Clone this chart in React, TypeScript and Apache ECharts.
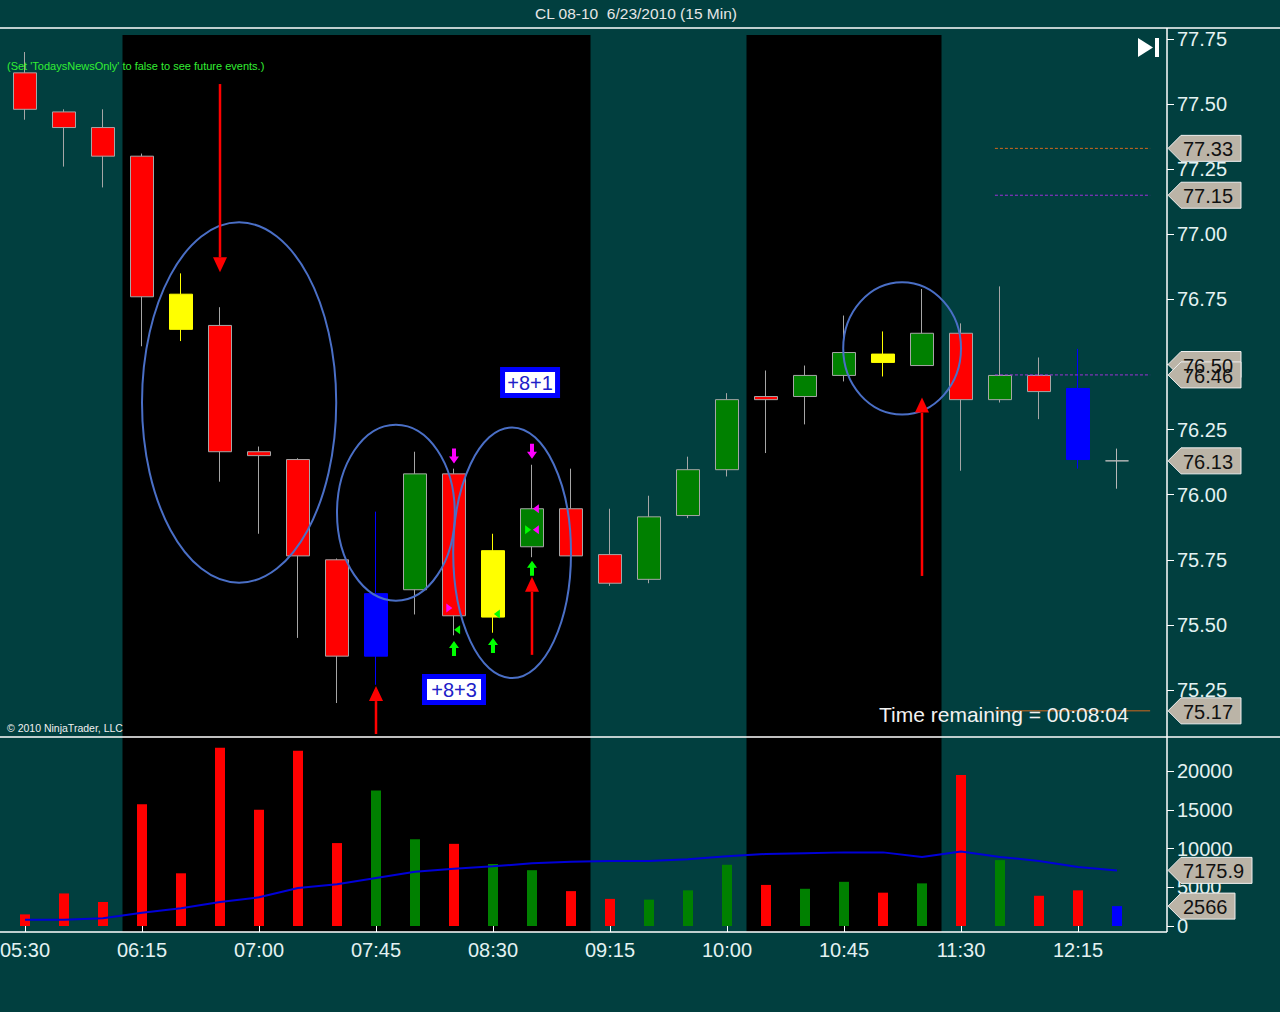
import React, { useEffect, useRef } from 'react';
import * as echarts from 'echarts';

const FONT = '"Liberation Sans", Arial, Helvetica, sans-serif';
const LABEL = '#e4f2f2';

// ---- price data (15 min bars) ----
const times = ['05:30','05:45','06:00','06:15','06:30','06:45','07:00','07:15','07:30','07:45','08:00','08:15','08:30','08:45','09:00','09:15','09:30','09:45','10:00','10:15','10:30','10:45','11:00','11:15','11:30','11:45','12:00','12:15','12:30'];
const opens  = [77.62, 77.47, 77.41, 77.30, 76.77, 76.65, 76.165, 76.135, 75.75, 75.38, 75.635, 76.08, 75.53, 75.80, 75.946, 75.77, 75.675, 75.92, 76.096, 76.377, 76.377, 76.458, 76.54, 76.496, 76.62, 76.365, 76.458, 76.408, 76.13];
const closes = [77.48, 77.41, 77.30, 76.76, 76.635, 76.165, 76.15, 75.765, 75.38, 75.62, 76.08, 75.535, 75.785, 75.946, 75.765, 75.66, 75.915, 76.096, 76.365, 76.365, 76.458, 76.546, 76.508, 76.62, 76.365, 76.458, 76.396, 76.135, 76.13];
const lows   = [77.44, 77.26, 77.18, 76.57, 76.59, 76.05, 75.85, 75.45, 75.20, 75.27, 75.54, 75.46, 75.47, 75.76, 75.765, 75.65, 75.66, 75.91, 76.07, 76.16, 76.27, 76.435, 76.454, 76.496, 76.092, 76.354, 76.29, 76.10, 76.023];
const highs  = [77.70, 77.48, 77.48, 77.31, 76.85, 76.72, 76.185, 76.14, 75.755, 75.935, 76.165, 76.10, 75.85, 76.115, 76.10, 75.946, 75.996, 76.146, 76.39, 76.477, 76.496, 76.688, 76.627, 76.79, 76.658, 76.80, 76.527, 76.56, 76.177];
const candleKinds = ['red','red','red','red','yellow','red','red','red','red','blue','green','red','yellow','green','red','red','green','green','green','red','green','green','yellow','green','red','green','red','blue','gray'];

// ---- volume data ----
const volumes = [1500, 4200, 3100, 15700, 6800, 23000, 15000, 22600, 10700, 17500, 11200, 10600, 8000, 7200, 4500, 3500, 3400, 4600, 7900, 5300, 4800, 5700, 4300, 5500, 19500, 8500, 3900, 4600, 2566];
const volumeKinds = ['red','red','red','red','red','red','red','red','red','green','green','red','green','green','red','red','green','green','green','red','green','green','red','green','red','green','red','red','blue'];
const volumeMA = [800, 800, 1000, 1700, 2300, 3100, 3700, 4900, 5400, 6200, 7000, 7400, 7700, 8100, 8300, 8400, 8400, 8600, 9000, 9300, 9400, 9500, 9500, 8900, 9600, 8900, 8400, 7600, 7175.9];

// ---- price level markers ----
const levelPrices = [77.33, 77.15, 76.46, 75.17];
const levelKinds = ['orangeDash', 'purpleDash', 'purpleDash', 'orangeSolid'];
const tagPrices = [77.33, 77.15, 76.50, 76.46, 76.13, 75.17];
const tagTexts = ['77.33', '77.15', '76.50', '76.46', '76.13', '75.17'];
const volTagValues = [7175.9, 2566];
const volTagTexts = ['7175.9', '2566'];

// ---- session shading (bar index ranges) ----
const sessionStart = [2.5, 18.5];
const sessionEnd = [14.5, 23.5];

// ---- annotations (anchored in bar-index / price units) ----
const ellipseIdx = [5.49, 9.51, 12.49, 22.49];
const ellipsePrice = [76.354, 75.931, 75.777, 76.562];
const ellipseRxBars = [2.49, 1.51, 1.51, 1.51];
const ellipseRyPrice = [0.692, 0.338, 0.481, 0.254];

const bigArrowIdx = [5, 9, 13, 23];
const bigArrowTail = [77.577, 75.081, 75.385, 75.688];
const bigArrowTip = [76.854, 75.265, 75.685, 76.373];

const downSignalIdx = [11, 13];
const downSignalTop = [76.177, 76.196];
const upSignalIdx = [11, 12, 13];
const upSignalTip = [75.438, 75.45, 75.746];
const triIdx = [11.08, 10.88, 12.1, 13.1, 12.9, 13.1];
const triPrice = [75.481, 75.565, 75.542, 75.946, 75.865, 75.865];
const triDir = ['left', 'right', 'left', 'left', 'right', 'left'];
const triKind = ['green', 'magenta', 'green', 'magenta', 'green', 'magenta'];

const boxTexts = ['+8+1', '+8+3'];
const boxIdx = [12.95, 11.0];
const boxPrice = [76.431, 75.252];

const BODY: Record<string, string> = { red: '#ff0000', green: '#008000', yellow: '#ffff00', blue: '#0000ff', gray: '#c4c4c4' };
const WICK: Record<string, string> = { red: '#a6a6a6', green: '#a6a6a6', yellow: '#ffff00', blue: '#0000ff', gray: '#b8b8b8' };
const VOL: Record<string, string> = { red: '#ff0000', green: '#008000', blue: '#0000ff' };
const LEVEL: Record<string, { color: string; dash: number[] | null }> = {
  orangeDash: { color: '#d2691e', dash: [3, 2] },
  purpleDash: { color: '#a030d8', dash: [3, 2] },
  orangeSolid: { color: '#d2691e', dash: null },
};
const SIG: Record<string, string> = { green: '#00ff00', magenta: '#ff00ff' };

export default function App() {
  const ref = useRef<HTMLDivElement>(null);

  useEffect(() => {
    if (!ref.current) return;
    const chart = echarts.init(ref.current, null, { renderer: 'svg' });

    const candleData = times.map((_, i) => {
      const k = candleKinds[i];
      return {
        value: [opens[i], closes[i], lows[i], highs[i]],
        itemStyle: { color: BODY[k], color0: BODY[k], borderColor: WICK[k], borderColor0: WICK[k], borderWidth: 1 },
      };
    });
    const volData = volumes.map((v, i) => ({ value: v, itemStyle: { color: VOL[volumeKinds[i]] } }));

    const axisLabel = { color: LABEL, fontSize: 20, fontFamily: FONT };

    chart.setOption({
      animation: false,
      backgroundColor: '#013f3f',
      grid: [
        { left: 5.5, right: 143.5, top: 39, height: 651, containLabel: false, outerBoundsMode: 'none' },
        { left: 5.5, right: 143.5, top: 771, height: 155, containLabel: false, outerBoundsMode: 'none' },
      ],
      xAxis: [
        { type: 'category', gridIndex: 0, data: times, show: false },
        {
          type: 'category', gridIndex: 1, data: times, offset: 6,
          axisLine: { show: false },
          axisTick: { show: true, interval: 2, alignWithLabel: true, length: 6, lineStyle: { color: '#ffffff' } },
          axisLabel: { ...axisLabel, interval: 2, margin: 8 },
          splitLine: { show: false },
        },
      ],
      yAxis: [
        {
          type: 'value', gridIndex: 0, position: 'right', offset: 30.5, min: 75.25, max: 77.75, interval: 0.25,
          axisLine: { show: false },
          axisTick: { show: true, length: 7, lineStyle: { color: '#ffffff' } },
          axisLabel: { ...axisLabel, margin: 10, formatter: (v: number) => v.toFixed(2) },
          splitLine: { show: false },
        },
        {
          type: 'value', gridIndex: 1, position: 'right', offset: 30.5, min: 0, max: 20000, interval: 5000,
          axisLine: { show: false },
          axisTick: { show: true, length: 7, lineStyle: { color: '#ffffff' } },
          axisLabel: { ...axisLabel, margin: 10, formatter: (v: number) => String(v) },
          splitLine: { show: false },
        },
      ],
      series: [
        { type: 'candlestick', xAxisIndex: 0, yAxisIndex: 0, data: candleData, barWidth: 23, clip: false, z: 3 },
        { type: 'bar', xAxisIndex: 1, yAxisIndex: 1, data: volData, barWidth: 10, clip: false, z: 3 },
        { type: 'line', xAxisIndex: 1, yAxisIndex: 1, data: volumeMA, symbol: 'none', clip: false, z: 4, lineStyle: { color: '#0000d8', width: 2 } },
      ],
    });

    const x0 = chart.convertToPixel({ xAxisIndex: 1 }, times[0]) as number;
    const x1 = chart.convertToPixel({ xAxisIndex: 1 }, times[1]) as number;
    const band = x1 - x0;
    const px = (i: number) => x0 + i * band;
    const py = (p: number) => chart.convertToPixel({ yAxisIndex: 0 }, p) as number;
    const vy = (v: number) => chart.convertToPixel({ yAxisIndex: 1 }, v) as number;
    const axisX = px(29 - 0.5) + 30.5;
    const panelTop = 28;
    const sepY = 737;
    const bottomY = 932;

    const els: any[] = [];

    // session shading
    sessionStart.forEach((s, k) => {
      els.push({ type: 'rect', z: 0, shape: { x: px(s), y: 35, width: px(sessionEnd[k]) - px(s), height: bottomY - 35 }, style: { fill: '#000000' } });
    });

    // frame
    const frame = { stroke: '#ffffff', lineWidth: 1.5 };
    els.push({ type: 'line', z: 6, shape: { x1: 0, y1: panelTop, x2: 1280, y2: panelTop }, style: frame });
    els.push({ type: 'line', z: 6, shape: { x1: 0, y1: sepY, x2: 1280, y2: sepY }, style: frame });
    els.push({ type: 'line', z: 6, shape: { x1: axisX, y1: panelTop, x2: axisX, y2: bottomY }, style: frame });
    els.push({ type: 'line', z: 6, shape: { x1: 0, y1: bottomY, x2: axisX, y2: bottomY }, style: frame });

    // level lines
    const lx1 = px(24.87);
    const lx2 = px(28.85);
    levelPrices.forEach((p, k) => {
      const L = LEVEL[levelKinds[k]];
      els.push({ type: 'line', z: 7, shape: { x1: lx1, y1: py(p), x2: lx2, y2: py(p) }, style: { stroke: L.color, lineWidth: 1, lineDash: L.dash || undefined } });
    });

    // ellipses
    ellipseIdx.forEach((ci, k) => {
      const cy = py(ellipsePrice[k]);
      const ry = Math.abs(py(ellipsePrice[k] + ellipseRyPrice[k]) - cy);
      els.push({ type: 'ellipse', z: 10, shape: { cx: px(ci), cy, rx: ellipseRxBars[k] * band, ry }, style: { fill: 'none', stroke: '#4a6fc6', lineWidth: 2 } });
    });

    // big red arrows
    bigArrowIdx.forEach((bi, k) => {
      const x = px(bi);
      const tail = py(bigArrowTail[k]);
      const tip = py(bigArrowTip[k]);
      const dir = tip < tail ? 1 : -1; // 1 = pointing up
      const base = tip + dir * 15;
      els.push({ type: 'line', z: 11, shape: { x1: x, y1: tail, x2: x, y2: base }, style: { stroke: '#ff0000', lineWidth: 2.5 } });
      els.push({ type: 'polygon', z: 11, shape: { points: [[x, tip], [x + 7, base], [x - 7, base]] }, style: { fill: '#ff0000' } });
    });

    // fat signal arrows
    const fat = (cx: number, tipY: number, s: number, color: string) => ({
      type: 'polygon', z: 12,
      shape: { points: [[cx, tipY], [cx + 5, tipY + s * 7], [cx + 2, tipY + s * 7], [cx + 2, tipY + s * 15], [cx - 2, tipY + s * 15], [cx - 2, tipY + s * 7], [cx - 5, tipY + s * 7]] },
      style: { fill: color },
    });
    downSignalIdx.forEach((bi, k) => { els.push(fat(px(bi), py(downSignalTop[k]) + 15, -1, SIG.magenta)); });
    upSignalIdx.forEach((bi, k) => { els.push(fat(px(bi), py(upSignalTip[k]), 1, SIG.green)); });
    triIdx.forEach((ti, k) => {
      const x = px(ti);
      const y = py(triPrice[k]);
      const pts = triDir[k] === 'left' ? [[x - 3, y], [x + 3, y - 4.5], [x + 3, y + 4.5]] : [[x + 3, y], [x - 3, y - 4.5], [x - 3, y + 4.5]];
      els.push({ type: 'polygon', z: 12, shape: { points: pts }, style: { fill: SIG[triKind[k]] } });
    });

    // +8 boxes
    boxTexts.forEach((t, k) => {
      const cx = px(boxIdx[k]);
      const cy = py(boxPrice[k]);
      const w = t === '+8+1' ? 55 : 59;
      els.push({ type: 'rect', z: 12, shape: { x: cx - w / 2, y: cy - 13, width: w, height: 26 }, style: { fill: '#ffffff', stroke: '#0000ff', lineWidth: 5 } });
      els.push({ type: 'text', z: 13, x: cx, y: cy + 1, style: { text: t, fill: '#2020c8', font: `20px ${FONT}`, textAlign: 'center', textVerticalAlign: 'middle' } });
    });

    // price tags
    const tag = (y: number, text: string, width: number) => {
      els.push({
        type: 'polygon', z: 20,
        shape: { points: [[axisX + 1, y], [axisX + 14, y - 13], [axisX + width, y - 13], [axisX + width, y + 13], [axisX + 14, y + 13]] },
        style: { fill: '#bbb4a7', stroke: '#eeeeee', lineWidth: 1 },
      });
      els.push({ type: 'text', z: 21, x: axisX + 16, y: y + 1, style: { text, fill: '#111111', font: `20px ${FONT}`, textAlign: 'left', textVerticalAlign: 'middle' } });
    };
    tagPrices.forEach((p, k) => tag(py(p), tagTexts[k], 74));
    volTagValues.forEach((v, k) => tag(vy(v), volTagTexts[k], volTagTexts[k].length > 4 ? 85 : 68));

    // texts
    els.push({ type: 'text', z: 15, x: 636, y: 13, style: { text: 'CL 08-10  6/23/2010 (15 Min)', fill: '#e6e6e6', font: `15.5px ${FONT}`, textAlign: 'center', textVerticalAlign: 'middle' } });
    els.push({ type: 'text', z: 15, x: 7, y: 66, style: { text: "(Set 'TodaysNewsOnly' to false to see future events.)", fill: '#33ee33', font: `11px ${FONT}`, textAlign: 'left', textVerticalAlign: 'middle' } });
    els.push({ type: 'text', z: 15, x: 7, y: 728, style: { text: '© 2010 NinjaTrader, LLC', fill: '#f0f0f0', font: `10.5px ${FONT}`, textAlign: 'left', textVerticalAlign: 'middle' } });
    els.push({ type: 'text', z: 15, x: 879, y: 714, style: { text: 'Time remaining = 00:08:04', fill: '#f2f2f2', font: `21px ${FONT}`, textAlign: 'left', textVerticalAlign: 'middle' } });

    // go-to-end icon
    els.push({ type: 'polygon', z: 15, shape: { points: [[1138, 38], [1153, 47.5], [1138, 57]] }, style: { fill: '#ffffff' } });
    els.push({ type: 'rect', z: 15, shape: { x: 1155, y: 38, width: 4, height: 19 }, style: { fill: '#ffffff' } });

    chart.setOption({ graphic: { elements: els } });

    return () => chart.dispose();
  }, []);

  return <div ref={ref} style={{ position: 'fixed', left: 0, top: 0, width: 1280, height: 1012 }} />;
}
